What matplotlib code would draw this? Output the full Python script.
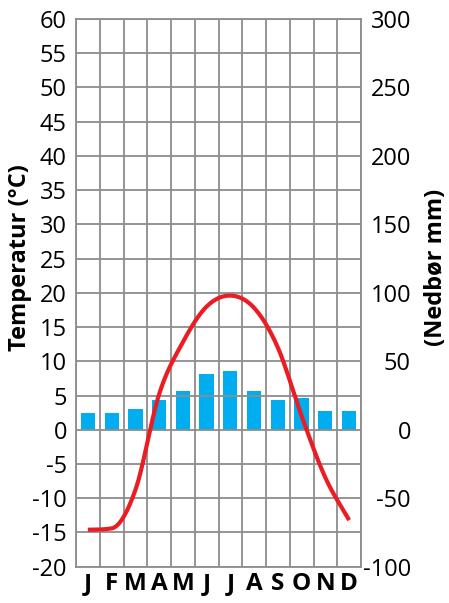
import matplotlib
matplotlib.use("Agg")
import matplotlib.pyplot as plt
import numpy as np

plt.rcParams['font.family'] = ['Open Sans', 'DejaVu Sans']

months = ["J", "F", "M", "A", "M", "J", "J", "A", "S", "O", "N", "D"]
temperature = [-14.6, -14.4, -8.8, 5.2, 12.8, 18.0, 19.6, 17.8, 12.0, 2.0, -7.0, -13.2]
precipitation = [12, 12, 15, 22, 28, 41, 43, 28, 21.5, 23, 14, 13.5]
temp_ticks = list(range(-20, 61, 5))
precip_ticks = list(range(-100, 301, 50))

GRID = "#8c8c8c"
BAR = "#00AEEF"
RED = "#EC1C24"

W, H = 449, 603
fig = plt.figure(figsize=(W / 100, H / 100), dpi=100)
ax = fig.add_axes([76 / W, 36.3 / H, 285 / W, 547.7 / H])
ax2 = ax.twinx()
ax.set_zorder(ax2.get_zorder() + 1)
ax.patch.set_visible(False)

x = np.arange(len(months))

# precipitation bars on the right axis
ax2.bar(x, precipitation, width=0.6, color=BAR, zorder=1)
ax2.set_ylim(-100, 300)
ax2.set_yticks(precip_ticks)
ax2.set_yticklabels([str(t) for t in precip_ticks])
ax2.tick_params(axis='y', length=0, pad=36, labelsize=17)
for lab in ax2.get_yticklabels():
    lab.set_horizontalalignment('right')
for s in ax2.spines.values():
    s.set_visible(False)
ax2.set_ylabel("(Nedbør mm)", fontsize=17, fontweight='bold')
ax2.yaxis.set_label_coords(1.263, 0.546)
ax2.yaxis.label.set_va('center')

# smooth rendering of the monthly values (cardinal spline with overshoot limiting)
def smooth_curve(xs, ys, n=40):
    xs = np.asarray(xs, float); ys = np.asarray(ys, float)
    d = np.diff(ys)
    m = np.zeros_like(ys)
    m[1:-1] = (ys[2:] - ys[:-2]) / 2
    m[0] = d[0]
    m[-1] = d[-1]
    for k in range(len(d)):
        if d[k] == 0:
            m[k] = m[k + 1] = 0
            continue
        a, b = m[k] / d[k], m[k + 1] / d[k]
        s = a * a + b * b
        if s > 9:
            tau = 3 / np.sqrt(s)
            m[k] = tau * a * d[k]
            m[k + 1] = tau * b * d[k]
    ox, oy = [], []
    for k in range(len(xs) - 1):
        t = np.linspace(0, 1, n, endpoint=False)
        h00 = 2 * t ** 3 - 3 * t ** 2 + 1
        h10 = t ** 3 - 2 * t ** 2 + t
        h01 = -2 * t ** 3 + 3 * t ** 2
        h11 = t ** 3 - t ** 2
        ox.extend(xs[k] + t)
        oy.extend(h00 * ys[k] + h10 * m[k] + h01 * ys[k + 1] + h11 * m[k + 1])
    ox.append(xs[-1]); oy.append(ys[-1])
    return np.array(ox), np.array(oy)

cx, cy = smooth_curve(x, temperature)
ax.plot(cx, cy, color=RED, lw=3.0, solid_capstyle='butt', zorder=4)

ax.set_xlim(-0.5, 11.5)
ax.set_ylim(-20, 60)
ax.set_yticks(temp_ticks)
ax.set_yticklabels([str(t) for t in temp_ticks])
ax.set_xticks(x)
ax.set_xticklabels(months, fontweight='bold', fontsize=17.5)
ax.set_xticks(np.arange(-0.5, 12, 1), minor=True)
ax.tick_params(axis='y', length=0, pad=6.5, labelsize=17)
ax.tick_params(axis='x', which='both', length=0, pad=4)
ax.set_axisbelow(False)
ax.grid(axis='y', which='major', color=GRID, lw=1.3, zorder=2)
ax.grid(axis='x', which='minor', color=GRID, lw=1.3, zorder=2)
for s in ax.spines.values():
    s.set_color(GRID)
    s.set_linewidth(1.3)
ax.set_ylabel("Temperatur (°C)", fontsize=17, fontweight='bold')
ax.yaxis.set_label_coords(-0.195, 0.564)
ax.yaxis.label.set_va('center')

fig.savefig("out.png", dpi=100)
